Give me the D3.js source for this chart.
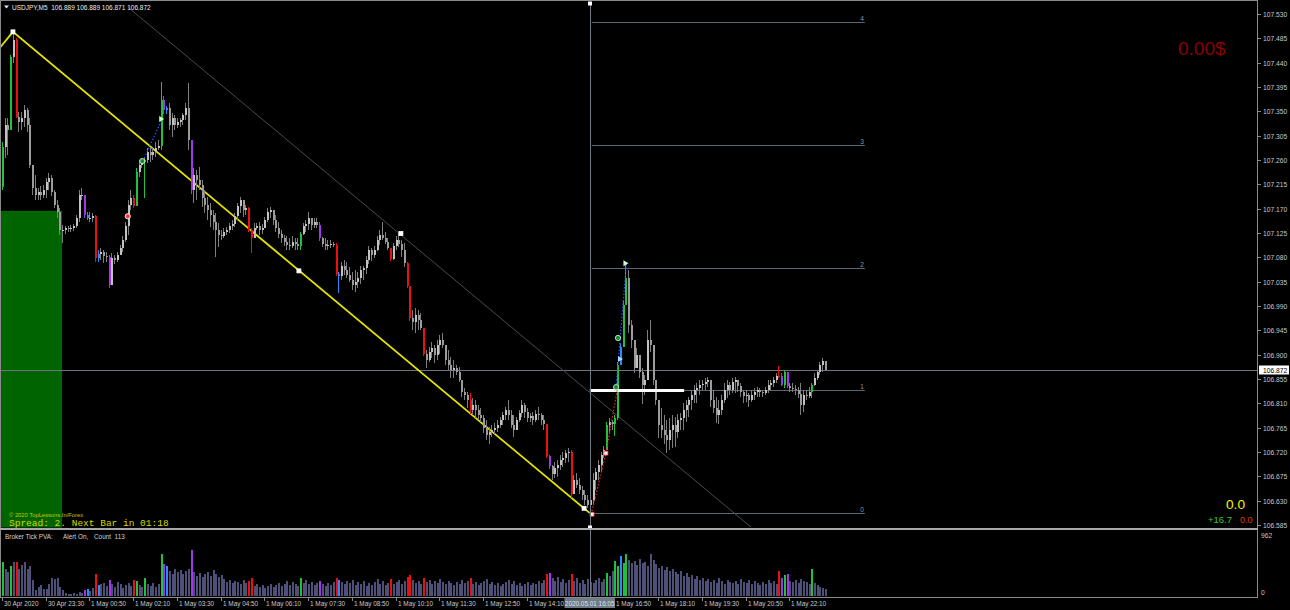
<!DOCTYPE html>
<html><head><meta charset="utf-8">
<script src="https://cdn.jsdelivr.net/npm/d3@7"></script>
<style>html,body{margin:0;padding:0;background:#000;overflow:hidden}svg{display:block}</style>
</head><body><svg id="c" width="1290" height="610"></svg>
<script>
// ---------- DATA (USDJPY M5, bar 0 = 30 Apr 22:10) ----------
const symbolHeader = "USDJPY,M5  106.889 106.889 106.871 106.872";
const firstOpen = 107.210;
const highs = [
107.293,107.338,107.338,107.454,107.497,107.486,107.349,107.349,107.362,107.356,
107.338,107.251,107.232,107.208,107.212,107.214,107.227,107.236,107.232,107.204,
107.186,107.171,107.140,107.138,107.138,107.140,107.142,107.158,107.204,107.208,
107.195,107.164,107.164,107.162,107.158,107.093,107.097,107.093,107.090,107.084,
107.088,107.084,107.090,107.103,107.119,107.145,107.186,107.204,107.195,107.245,
107.260,107.264,107.264,107.282,107.284,107.282,107.293,107.297,107.404,107.378,
107.360,107.365,107.347,107.343,107.338,107.338,107.347,107.365,107.402,107.297,
107.245,107.241,107.247,107.223,107.204,107.192,107.180,107.167,107.162,107.143,
107.130,107.134,107.136,107.143,107.149,107.162,107.180,107.192,107.186,107.177,
107.173,107.134,107.143,107.143,107.145,107.142,107.155,107.171,107.173,107.167,
107.158,107.145,107.130,107.121,107.119,107.116,107.119,107.116,107.116,107.127,
107.143,107.149,107.164,107.153,107.153,107.153,107.145,107.118,107.116,107.112,
107.112,107.108,107.106,107.053,107.071,107.075,107.071,107.062,107.053,107.056,
107.053,107.064,107.064,107.082,107.101,107.097,107.101,107.119,107.130,107.145,
107.127,107.116,107.097,107.106,107.119,107.125,107.112,107.106,107.071,107.027,
106.982,106.986,106.982,106.977,106.945,106.908,106.914,106.923,106.918,106.927,
106.936,106.940,106.918,106.908,106.895,106.890,106.881,106.877,106.853,106.838,
106.831,106.829,106.820,106.816,106.807,106.801,106.788,106.779,106.766,106.770,
106.773,106.779,106.785,106.794,106.803,106.816,106.797,106.788,106.785,106.797,
106.816,106.810,106.801,106.792,106.794,106.797,106.803,106.792,106.788,106.772,
106.714,106.696,106.701,106.705,106.714,106.720,106.723,106.727,106.723,106.677,
106.681,106.672,106.657,106.649,106.640,106.635,106.681,106.690,106.705,106.720,
106.731,106.775,106.783,106.779,106.788,106.886,106.921,107.001,107.071,107.056,
106.964,106.918,106.912,106.890,106.875,106.862,106.945,106.964,106.918,106.853,
106.816,106.801,106.788,106.779,106.783,106.788,106.785,106.790,106.792,106.810,
106.816,106.821,106.834,106.844,106.847,106.853,106.853,106.857,106.859,106.847,
106.834,106.821,106.816,106.825,106.847,106.853,106.849,106.857,106.859,106.853,
106.847,106.834,106.834,106.829,106.834,106.838,106.840,106.838,106.834,106.840,
106.853,106.853,106.859,106.866,106.880,106.866,106.871,106.868,106.847,106.847,
106.844,106.840,106.847,106.834,106.834,106.840,106.847,106.866,106.871,106.886,
106.894,106.889];
const lows = [
107.204,107.264,107.269,107.325,107.439,107.338,107.312,107.315,107.321,107.312,
107.245,107.195,107.186,107.186,107.186,107.190,107.190,107.204,107.193,107.171,
107.153,107.121,107.106,107.123,107.127,107.127,107.129,107.134,107.145,107.186,
107.153,107.149,107.145,107.145,107.071,107.071,107.075,107.069,107.071,107.023,
107.062,107.068,107.071,107.084,107.090,107.108,107.121,107.167,107.171,107.186,
107.229,107.245,107.190,107.254,107.256,107.260,107.266,107.279,107.279,107.345,
107.345,107.315,107.303,107.315,107.319,107.321,107.325,107.334,107.279,107.197,
107.180,107.186,107.204,107.173,107.162,107.149,107.136,107.130,107.081,107.099,
107.112,107.116,107.121,107.125,107.130,107.136,107.149,107.162,107.155,107.158,
107.127,107.088,107.121,107.130,107.121,107.123,107.134,107.145,107.153,107.140,
107.127,107.116,107.106,107.101,107.093,107.093,107.097,107.093,107.093,107.093,
107.121,107.127,107.130,107.130,107.134,107.134,107.110,107.099,107.093,107.093,
107.097,107.099,107.045,107.014,107.038,107.047,107.042,107.034,107.019,107.016,
107.023,107.031,107.038,107.049,107.068,107.073,107.079,107.091,107.103,107.112,
107.105,107.093,107.073,107.075,107.093,107.099,107.081,107.062,107.023,106.962,
106.945,106.940,106.945,106.945,106.897,106.875,106.886,106.894,106.884,106.890,
106.901,106.912,106.881,106.871,106.857,106.857,106.862,106.849,106.822,106.816,
106.801,106.790,106.788,106.783,106.779,106.775,106.755,106.742,106.735,106.748,
106.753,106.757,106.764,106.770,106.779,106.779,106.764,106.748,106.760,106.775,
106.785,106.783,106.775,106.775,106.770,106.775,106.779,106.770,106.760,106.709,
106.688,106.668,106.672,106.674,106.686,106.692,106.699,106.701,106.635,106.646,
106.653,106.642,106.631,106.622,106.616,106.605,106.622,106.649,106.668,106.683,
106.709,106.723,106.755,106.760,106.749,106.779,106.883,106.918,106.992,106.940,
106.912,106.866,106.875,106.857,106.809,106.825,106.875,106.905,106.844,106.807,
106.746,106.746,106.735,106.718,106.723,106.727,106.729,106.746,106.760,106.760,
106.775,106.785,106.797,106.810,106.810,106.825,106.834,106.834,106.840,106.803,
106.792,106.773,106.772,106.788,106.810,106.820,106.825,106.829,106.829,106.831,
106.821,106.810,106.812,106.803,106.812,106.816,106.821,106.821,106.821,106.825,
106.829,106.834,106.840,106.847,106.857,106.842,106.838,106.838,106.831,106.831,
106.825,106.820,106.788,106.794,106.816,106.820,106.820,106.842,106.853,106.862,
106.868,106.871];
const closes = [
107.284,107.325,107.315,107.451,107.482,107.340,107.330,107.338,107.352,107.325,
107.251,107.208,107.195,107.201,107.195,107.204,107.219,107.227,107.201,107.177,
107.164,107.130,107.130,107.134,107.132,107.134,107.138,107.153,107.195,107.195,
107.158,107.153,107.153,107.156,107.079,107.086,107.090,107.082,107.081,107.029,
107.079,107.075,107.084,107.097,107.112,107.138,107.177,107.190,107.175,107.238,
107.251,107.256,107.260,107.275,107.269,107.275,107.282,107.286,107.371,107.352,
107.356,107.325,107.338,107.325,107.330,107.334,107.343,107.356,107.297,107.204,
107.232,107.223,107.214,107.190,107.177,107.167,107.158,107.145,107.130,107.121,
107.119,107.127,107.130,107.138,107.142,107.156,107.175,107.186,107.167,107.171,
107.130,107.116,107.134,107.138,107.130,107.134,107.149,107.164,107.167,107.149,
107.134,107.123,107.116,107.108,107.103,107.101,107.108,107.105,107.101,107.123,
107.138,107.142,107.153,107.140,107.145,107.140,107.116,107.105,107.101,107.103,
107.105,107.103,107.049,107.045,107.064,107.056,107.047,107.038,107.029,107.034,
107.042,107.056,107.060,107.075,107.093,107.084,107.093,107.112,107.121,107.116,
107.108,107.097,107.077,107.101,107.112,107.105,107.093,107.069,107.027,106.968,
106.960,106.973,106.964,106.949,106.901,106.890,106.905,106.912,106.899,106.918,
106.927,106.918,106.890,106.881,106.871,106.875,106.868,106.853,106.831,106.825,
106.816,106.797,106.807,106.797,106.788,106.783,106.764,106.751,106.757,106.760,
106.764,106.770,106.779,106.788,106.797,106.788,106.770,106.760,106.779,106.792,
106.807,106.794,106.783,106.786,106.779,106.790,106.788,106.779,106.772,106.712,
106.694,106.679,106.690,106.696,106.705,106.709,106.718,106.720,106.642,106.668,
106.659,106.649,106.640,106.631,106.622,106.631,106.668,106.683,106.696,106.714,
106.723,106.770,106.775,106.772,106.783,106.881,106.914,106.992,107.042,106.955,
106.927,106.875,106.899,106.868,106.844,106.853,106.927,106.918,106.853,106.816,
106.770,106.760,106.751,106.742,106.760,106.770,106.757,106.779,106.783,106.797,
106.807,106.816,106.825,106.834,106.838,106.844,106.845,106.849,106.853,106.816,
106.801,106.788,106.797,106.816,106.834,106.844,106.834,106.849,106.853,106.842,
106.831,106.823,106.825,106.816,106.825,106.831,106.834,106.831,106.829,106.834,
106.844,106.847,106.853,106.860,106.860,106.844,106.868,106.842,106.838,106.836,
106.834,106.827,106.807,106.825,106.823,106.831,106.844,106.857,106.868,106.881,
106.889,106.872];
const tickVolumes = [
520,413,367,459,520,520,413,474,520,413,
459,245,92,138,168,107,107,184,275,260,
275,138,92,46,31,31,46,31,61,46,
92,107,77,122,337,168,184,199,153,245,
184,138,214,184,122,168,199,153,245,230,
168,138,275,184,153,199,138,184,643,490,
459,383,337,413,367,398,337,383,413,704,
367,306,352,291,337,367,306,398,337,291,
321,260,214,245,199,230,214,184,245,199,
230,275,153,184,138,168,122,153,184,138,
168,199,153,184,230,168,214,184,153,275,
199,245,184,214,168,199,230,184,153,199,
168,214,275,245,214,184,230,199,245,168,
214,184,230,153,199,168,214,260,184,230,
168,199,260,184,214,245,184,230,291,321,
245,199,230,184,275,214,245,184,230,199,
260,214,184,230,199,168,214,184,245,199,
230,275,184,214,168,199,230,260,184,214,
168,199,153,184,214,245,184,230,168,199,
153,184,214,168,199,184,230,199,245,337,
352,275,230,291,214,260,199,245,337,230,
275,199,245,184,260,214,199,245,275,214,
260,352,306,383,536,459,612,505,643,551,
505,536,474,566,505,520,459,643,551,490,
428,459,398,444,383,413,367,337,383,306,
352,291,321,260,306,245,275,230,260,214,
245,199,275,230,184,245,214,199,230,184,
260,214,199,245,184,230,199,168,214,184,
245,199,230,184,383,275,321,337,230,214,
245,199,260,230,214,184,413,199,168,138,
122,113];
// PVA climax / rising-volume bars (bar indices)
const pvaGreen  = [0,3,49,52,58,109,221,224,225,227,228,286,296];
const pvaRed    = [5,34,48,90,91,122,142,148,149,154,171,199,208,284];
const pvaPurple = [30,39,59,69,116,200,285,287];
const pvaBlue   = [31,35,60,123,226];
// axes
const priceTicks = ["107.530","107.485","107.440","107.395","107.350","107.305","107.260","107.215","107.170","107.125","107.080","107.035","106.990","106.945","106.900","106.855","106.810","106.765","106.720","106.675","106.630","106.585"];
const timeLabelBars = [0,16,32,48,64,80,96,112,128,144,160,176,192,208,224,240,256,272,288];
const timeLabels = ["30 Apr 2020","30 Apr 23:30","1 May 00:50","1 May 02:10","1 May 03:30","1 May 04:50","1 May 06:10","1 May 07:30","1 May 08:50","1 May 10:10","1 May 11:30","1 May 12:50","1 May 14:10","1 May 15:30","1 May 16:50","1 May 18:10","1 May 19:30","1 May 20:50","1 May 22:10"];
const currentPrice = 106.872;
const volumeMax = 962;
const lastBarCount = 113;
// drawing objects
const zigzag = [[-2,107.460],[4,107.497],[215,106.607]];
const channelLine = [[46,107.543],[274,106.581]];
const fibLevels = [0,1,2,3,4];
const fibBase = 106.607, fibOne = 106.834;
const fibFromBar = 215.7, fibToBar = 315.6;
const fibWhiteBar = [215,249.5];
const sessionBox = {from:-2, to:21.97, top:107.166};
const cursorBar = 215, cursorLabel = "2020.05.01 16:05";
const redDotted = [[215.5,106.605],[220.9,106.718],[225,106.834]];
const blueDotted = [[224.6,106.840],[228.4,107.069]];
const blueDotted2 = [[51.5,107.258],[58.6,107.336]];
const markers = [
 [4,107.497,"sq","#ffffff","#ffffff"],
 [108.6,107.055,"sq","#ffffff","#ffffff"],
 [145.9,107.124,"sq","#ffffff","#ffffff"],
 [212.9,106.616,"sq","#ffffff","#ffffff"],
 [215.8,106.605,"sq","#ffffff","#ff3030"],
 [220.9,106.718,"sq","#ffffff","#ff3030"],
 [46,107.156,"ci","#ff3b3b","#ffffff"],
 [51.3,107.258,"ci","#208040","#d0ffd0"],
 [58.6,107.336,"tr","#c8ffc8","#c8ffc8"],
 [224.6,106.840,"ci","#208040","#b0ffb0"],
 [225.3,106.931,"ci","#208040","#b0ffb0"],
 [226.4,106.892,"tr","#a8d8ff","#a8d8ff"],
 [228.4,107.069,"tr","#c8ffc8","#c8ffc8"]
];

// ---------- CHART ----------
const SANS = '"Liberation Sans", Arial, sans-serif';
const MONO = '"Liberation Mono", "DejaVu Sans Mono", monospace';
const svg = d3.select('#c').style('font-family', SANS);
svg.append('rect').attr('width',1290).attr('height',610).attr('fill','#000');
const x = d3.scaleLinear().domain([0,288]).range([2,789.4]);
const y = d3.scaleLinear().domain([106.581,107.550]).range([527.2,3.2]);
const yv = d3.scaleLinear().domain([0,volumeMax]).range([596,533]);
const defs = svg.append('defs');
defs.append('clipPath').attr('id','mc').append('rect').attr('x',1).attr('y',1).attr('width',1256).attr('height',526.5);
defs.append('clipPath').attr('id','vc').append('rect').attr('x',1).attr('y',531).attr('width',1256).attr('height',66);
const main = svg.append('g').attr('clip-path','url(#mc)');
const vol = svg.append('g').attr('clip-path','url(#vc)');

const colorOf = i => pvaGreen.includes(i) ? '#1fc23b' : pvaRed.includes(i) ? '#ee1010' : pvaPurple.includes(i) ? '#a235ee' : pvaBlue.includes(i) ? '#2b8cff' : null;

// session box
main.append('rect').attr('x',x(sessionBox.from)).attr('y',y(sessionBox.top))
  .attr('width',x(sessionBox.to)-x(sessionBox.from)).attr('height',y(106.581)+2-y(sessionBox.top)).attr('fill','#006400');

// current price line
main.append('line').attr('x1',0).attr('x2',1257).attr('y1',Math.round(y(currentPrice))+0.5).attr('y2',Math.round(y(currentPrice))+0.5).attr('stroke','#6c747e').attr('stroke-width',1);

// fib lines
fibLevels.forEach(l=>{
  const p = fibBase + l*(fibOne-fibBase), yy = Math.round(y(p))+0.5;
  main.append('line').attr('x1',x(fibFromBar)).attr('x2',x(fibToBar)).attr('y1',yy).attr('y2',yy).attr('stroke','#5d6873').attr('stroke-width',1);
  main.append('text').attr('x',x(fibToBar)-1).attr('y',yy-2).attr('text-anchor','end').attr('font-size',6.5).attr('fill','#8e9aa6').text(l);
});

// cursor vertical line
const cx = Math.round(x(cursorBar))+0.5;
svg.append('line').attr('x1',cx).attr('x2',cx).attr('y1',3).attr('y2',597).attr('stroke','#707a84').attr('stroke-width',1);

// channel line
const line = d3.line().x(d=>x(d[0])).y(d=>y(d[1]));
main.append('path').attr('d',line(channelLine)).attr('fill','none').attr('stroke','#4a4a4a').attr('stroke-width',1);
// zigzag
main.append('path').attr('d',line(zigzag)).attr('fill','none').attr('stroke','#e2e200').attr('stroke-width',1.8);

// candles
const bars = closes.map((c,i)=>{const o = i===0?firstOpen:closes[i-1];
  return {i,o,c,h:Math.max(highs[i],o,c),l:Math.min(lows[i],o,c),col:colorOf(i)};});
const cg = main.append('g').attr('shape-rendering','crispEdges');
bars.forEach(b=>{
  const r = Math.round(x(b.i));
  const wc = b.col || '#7e7e7e';
  cg.append('rect').attr('x',r).attr('width',1).attr('y',y(b.h)).attr('height',Math.max(1,y(b.l)-y(b.h))).attr('fill',wc);
  const top = y(Math.max(b.o,b.c)), bot = y(Math.min(b.o,b.c));
  const bc = b.col || (b.c>=b.o ? '#c2c2c2' : '#9c9c9c');
  cg.append('rect').attr('x',r-0.5).attr('width',2).attr('y',top).attr('height',Math.max(1,bot-top)).attr('fill',bc);
});

// thick white line (fib level 1 segment)
main.append('line').attr('x1',x(fibWhiteBar[0])).attr('x2',x(fibWhiteBar[1])).attr('y1',y(fibOne)).attr('y2',y(fibOne)).attr('stroke','#ffffff').attr('stroke-width',3);

// dotted lines
main.append('path').attr('d',line(redDotted)).attr('fill','none').attr('stroke','#e02828').attr('stroke-width',1.2).attr('stroke-dasharray','1.5,1.8');
main.append('path').attr('d',line(blueDotted)).attr('fill','none').attr('stroke','#3050ff').attr('stroke-width',1.2).attr('stroke-dasharray','1.5,1.8');
main.append('path').attr('d',line(blueDotted2)).attr('fill','none').attr('stroke','#3050ff').attr('stroke-width',1.2).attr('stroke-dasharray','1.5,1.8');

// markers
markers.forEach(m=>{
  const mx = x(m[0]), my = y(m[1]);
  if(m[2]==='sq') main.append('rect').attr('x',mx-2).attr('y',my-2).attr('width',4).attr('height',4).attr('fill',m[3]).attr('stroke',m[4]).attr('stroke-width',0.8);
  else if(m[2]==='ci') main.append('circle').attr('cx',mx).attr('cy',my).attr('r',2.6).attr('fill',m[3]).attr('stroke',m[4]).attr('stroke-width',0.9);
  else main.append('path').attr('d',`M${mx-3},${my-3}L${mx+2},${my}L${mx-3},${my+3}Z`).attr('fill',m[3]);
});
// cursor squares
svg.append('rect').attr('x',cx-2.5).attr('y',1.5).attr('width',4).attr('height',4).attr('fill','#ffffff');
svg.append('rect').attr('x',cx-2.5).attr('y',525.5).attr('width',4).attr('height',4).attr('fill','#ffffff');

// volumes
const vg = vol.append('g').attr('shape-rendering','crispEdges');
tickVolumes.forEach((v,i)=>{
  const r = Math.round(x(i));
  vg.append('rect').attr('x',r-0.5).attr('width',2).attr('y',yv(v)).attr('height',yv(0)-yv(v)).attr('fill',colorOf(i)||'#4f5078');
});

// frame
const fr = svg.append('g').attr('shape-rendering','crispEdges');
fr.append('rect').attr('x',0.5).attr('y',0.5).attr('width',1257).attr('height',597).attr('fill','none').attr('stroke','#8a8a8a');
fr.append('rect').attr('x',0).attr('y',527.5).attr('width',1258).attr('height',2.5).attr('fill','#a8a8a8');

// price axis
priceTicks.forEach(t=>{
  const yy = Math.round(y(+t))+0.5;
  fr.append('line').attr('x1',1257).attr('x2',1261).attr('y1',yy).attr('y2',yy).attr('stroke','#8a8a8a');
  svg.append('text').attr('x',1263).attr('y',yy+2.4).attr('font-size',6.7).attr('fill','#c8c8c8').text(t);
});
// current price label
const cpy = Math.round(y(currentPrice));
svg.append('rect').attr('x',1259).attr('y',cpy-4.5).attr('width',30).attr('height',9).attr('fill','#ffffff');
svg.append('text').attr('x',1263).attr('y',cpy+2.6).attr('font-size',6.7).attr('fill','#000').text(currentPrice.toFixed(3));
// volume axis
svg.append('text').attr('x',1261).attr('y',yv(volumeMax)+4.5).attr('font-size',6.7).attr('fill','#c8c8c8').text(volumeMax);
svg.append('text').attr('x',1261).attr('y',yv(0)-1).attr('font-size',6.7).attr('fill','#c8c8c8').text('0');

// time axis (labels hidden by the cursor box are not shown)
const boxL = cx-26, boxR = cx+24.5;
timeLabelBars.forEach((b,k)=>{
  const tx = Math.round(x(b))+0.5;
  fr.append('line').attr('x1',tx).attr('x2',tx).attr('y1',597).attr('y2',601).attr('stroke','#8a8a8a');
  if (tx+1 >= boxL-2 && tx+1 < boxR) return;
  svg.append('text').attr('x',tx+1.5).attr('y',605.5).attr('font-size',6.4).attr('fill','#c8c8c8').text(timeLabels[k]);
});
svg.append('rect').attr('x',boxL).attr('y',598).attr('width',boxR-boxL).attr('height',10).attr('fill','#6f7b88');
svg.append('text').attr('x',(boxL+boxR)/2).attr('y',605.5).attr('text-anchor','middle').attr('font-size',6.4).attr('fill','#dde3ea').text(cursorLabel);

// header
svg.append('path').attr('d','M4,5.5L9,5.5L6.5,8.5Z').attr('fill','#e8e8e8');
svg.append('text').attr('x',12).attr('y',10).attr('font-size',6.5).attr('fill','#ebebeb').style('white-space','pre').text(symbolHeader);

// volume panel label
svg.append('text').attr('x',5).attr('y',539).attr('font-size',6.4).attr('fill','#d0d0d0').text('Broker Tick PVA:');
svg.append('text').attr('x',63).attr('y',539).attr('font-size',6.4).attr('fill','#d0d0d0').text('Alert On,');
svg.append('text').attr('x',94).attr('y',539).attr('font-size',6.4).attr('fill','#d0d0d0').style('white-space','pre').text('Count  ' + lastBarCount);

// bottom-left texts
svg.append('text').attr('x',9).attr('y',516.5).attr('font-size',5.8).attr('fill','#c8c800').text('© 2020 TopLessons.In/Forex');
svg.append('text').attr('x',9).attr('y',526).attr('font-size',9.5).style('font-family',MONO).attr('fill','#d8d800').style('white-space','pre').text('Spread: 2. Next Bar in 01:18');

// right-side info texts
svg.append('text').attr('x',1178).attr('y',55).attr('font-size',19).attr('fill','#8b0000').text('0.00$');
svg.append('text').attr('x',1226).attr('y',509).attr('font-size',13.7).attr('fill','#f2f200').text('0.0');
svg.append('text').attr('x',1208).attr('y',523).attr('font-size',9.5).attr('fill','#3cc03c').text('+16.7');
svg.append('text').attr('x',1240).attr('y',523).attr('font-size',9).attr('fill','#e23a10').text('0.0');
</script></body></html>
